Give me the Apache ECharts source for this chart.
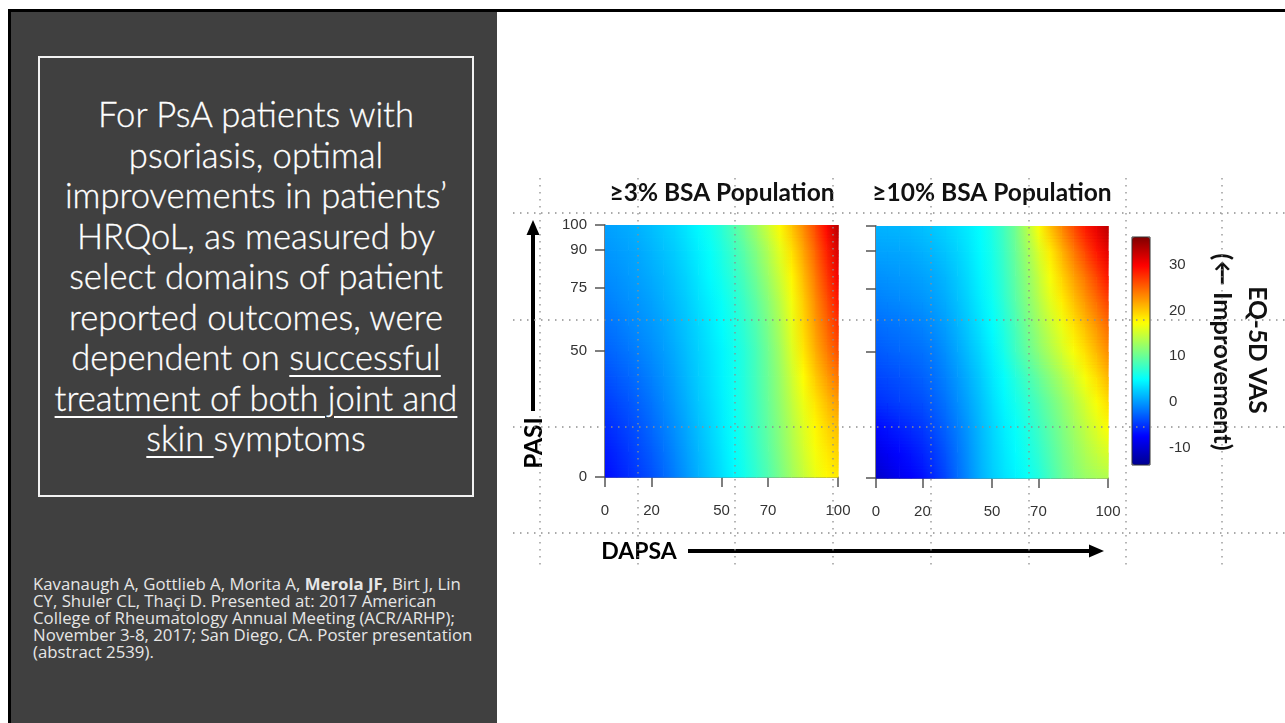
<!DOCTYPE html>
<html>
<head>
<meta charset="utf-8">
<script src="https://cdn.jsdelivr.net/npm/echarts@6.0.0/dist/echarts.min.js"></script>
<style>
html, body { margin: 0; padding: 0; background: #fff; }
#slide { position: relative; width: 1285px; height: 723px; overflow: hidden; }
#topbar { position: absolute; left: 8px; top: 9px; width: 1277px; height: 3px; background: #000; }
#leftpanel { position: absolute; left: 8px; top: 9px; width: 486px; height: 711px; background: #404040;
  border-left: 3px solid #000; border-top: 3px solid #000; }
#box { position: absolute; left: 38px; top: 56px; width: 436px; height: 441px; box-sizing: border-box;
  border: 2px solid #f2f2f2; }
#msg { position: absolute; left: 30px; top: 94px; width: 452px; text-align: center; color: #fff;
  font-family: Lato, "Open Sans", sans-serif; font-weight: 300; font-size: 34.6px; line-height: 40.5px;
  white-space: nowrap; -webkit-text-stroke: 0.3px #fff; }
#msg u { text-decoration-thickness: 2px; text-underline-offset: 5px; }
#cite { position: absolute; left: 33px; top: 575px; color: #e6e6e6; font-family: "Open Sans", Lato, sans-serif;
  font-size: 16.8px; line-height: 17px; white-space: nowrap; }
#chart { position: absolute; left: 0; top: 0; width: 1285px; height: 723px; }
</style>
</head>
<body>
<div id="slide">
  <div id="topbar"></div>
  <div id="leftpanel"></div>
  <div id="box"></div>
  <div id="msg">For PsA patients with<br>psoriasis, optimal<br>improvements in patients’<br>HRQoL, as measured by<br>select domains of patient<br>reported outcomes, were<br>dependent on <u>successful</u><br><u>treatment of both joint and</u><br><u>skin </u>symptoms</div>
  <div id="cite">Kavanaugh A, Gottlieb A, Morita A, <b>Merola JF,</b> Birt J, Lin<br>CY, Shuler CL, Thaçi D. Presented at: 2017 American<br>College of Rheumatology Annual Meeting (ACR/ARHP);<br>November 3-8, 2017; San Diego, CA. Poster presentation<br>(abstract 2539).</div>
  <div id="chart"></div>
</div>
<script>
// grid nodes (DAPSA across, PASI up)
var dapsa = [0,5,10,15,20,25,30,35,40,45,50,55,60,65,70,75,80,85,90,95,100];
var pasi = [0,10,20,30,40,50,60,70,80,90,100];

// EQ-5D VAS improvement, one row per PASI node (bottom row first)
var bsa3 = [
  [-7.0,-6.2,-5.4,-4.5,-3.6,-2.5,-1.3,-0.1,1.1,2.3,3.4,4.6,5.9,7.3,8.8,10.7,12.7,14.5,16.3,17.6,18.4],
  [-6.3,-5.6,-4.8,-3.9,-3.0,-2.0,-0.9,0.3,1.4,2.6,3.7,4.9,6.2,7.7,9.3,11.2,13.2,15.1,16.9,18.4,19.5],
  [-5.5,-4.8,-4.1,-3.3,-2.4,-1.4,-0.4,0.7,1.8,2.9,4.0,5.2,6.5,8.0,9.7,11.6,13.7,15.7,17.6,19.3,20.6],
  [-4.6,-4.0,-3.4,-2.6,-1.8,-0.9,0.1,1.1,2.2,3.2,4.2,5.4,6.7,8.2,10.0,12.0,14.3,16.5,18.6,20.6,22.3],
  [-3.7,-3.1,-2.6,-1.9,-1.2,-0.4,0.5,1.5,2.5,3.4,4.4,5.5,6.8,8.4,10.2,12.3,14.9,17.4,19.9,22.2,24.2],
  [-2.8,-2.3,-1.8,-1.2,-0.6,0.1,0.9,1.8,2.7,3.6,4.5,5.6,6.9,8.5,10.4,12.7,15.6,18.5,21.2,23.7,26.0],
  [-2.0,-1.6,-1.1,-0.6,-0.1,0.5,1.3,2.1,3.0,3.9,4.9,6.0,7.3,8.9,10.9,13.3,16.2,19.2,22.1,24.8,27.4],
  [-1.3,-0.9,-0.5,-0.1,0.4,1.0,1.7,2.5,3.4,4.3,5.3,6.5,7.9,9.6,11.6,14.0,16.8,19.8,22.9,25.9,28.8],
  [-0.7,-0.4,0.0,0.4,0.9,1.4,2.1,2.9,3.8,4.8,5.8,7.1,8.6,10.4,12.5,14.9,17.7,20.7,23.8,27.1,30.3],
  [-0.2,0.1,0.4,0.8,1.3,1.9,2.5,3.3,4.2,5.2,6.4,7.8,9.5,11.4,13.6,16.1,18.9,21.8,24.9,28.3,31.8],
  [0.3,0.6,0.9,1.3,1.8,2.4,3.0,3.8,4.7,5.7,7.0,8.7,10.6,12.7,15.0,17.6,20.3,23.1,26.2,29.6,33.5]
];
var bsa10 = [
  [-10.5,-9.4,-8.4,-7.6,-6.8,-5.5,-4.1,-2.3,-0.6,1.1,2.5,3.5,4.4,5.3,6.5,8.2,9.9,11.2,12.3,13.0,13.5],
  [-8.8,-8.0,-7.3,-6.6,-5.8,-4.7,-3.4,-1.9,-0.3,1.3,2.7,3.8,4.8,5.9,7.2,8.8,10.4,11.9,13.3,14.5,15.5],
  [-7.2,-6.6,-6.0,-5.4,-4.8,-3.8,-2.7,-1.4,0.0,1.5,2.9,4.1,5.2,6.4,7.8,9.4,11.0,12.6,14.2,15.8,17.3],
  [-5.3,-4.9,-4.5,-4.1,-3.7,-2.9,-1.9,-0.7,0.6,1.9,3.3,4.6,5.8,7.1,8.6,10.2,11.8,13.5,15.3,17.1,19.0],
  [-4.2,-3.9,-3.6,-3.2,-2.8,-2.1,-1.2,-0.1,1.1,2.4,3.8,5.1,6.6,8.2,9.9,11.6,13.3,15.1,17.0,19.0,21.0],
  [-3.2,-2.9,-2.6,-2.3,-2.0,-1.4,-0.5,0.6,1.8,3.0,4.3,5.9,7.8,9.7,11.6,13.4,15.2,17.0,18.9,20.9,22.9],
  [-2.3,-2.0,-1.8,-1.5,-1.2,-0.6,0.2,1.2,2.4,3.6,4.9,6.5,8.4,10.5,12.6,14.6,16.5,18.6,20.5,22.5,24.5],
  [-1.3,-1.1,-0.9,-0.6,-0.3,0.2,0.9,1.8,2.9,4.1,5.4,7.1,9.1,11.3,13.6,15.9,18.1,20.3,22.4,24.5,26.6],
  [-0.5,-0.3,-0.1,0.1,0.4,0.8,1.4,2.3,3.3,4.5,5.8,7.5,9.6,11.9,14.5,17.0,19.5,21.9,24.1,26.5,28.8],
  [0.4,0.5,0.6,0.8,1.1,1.5,2.1,2.8,3.7,4.8,6.0,7.8,10.0,12.6,15.5,18.3,21.1,23.8,26.4,28.8,31.0],
  [1.2,1.3,1.4,1.6,1.9,2.3,2.8,3.4,4.1,5.0,6.3,8.1,10.4,13.7,17.2,20.5,23.4,26.1,28.7,31.0,33.2]
];

var dapsaTicks = [0,20,50,70,100];
var pasiTicks = [0,50,75,90,100];
var vasTicks = [-10,0,10,20,30];
var vasMin = -13.7, vasMax = 36;

var jet = ['#00008f','#0000ff','#0080ff','#00ffff','#80ff80','#ffff00','#ff8000','#ff0000','#800000'];

function toTriples(rows){
	var out = [];
	for (var j = 0; j < pasi.length; j++){
		for (var i = 0; i < dapsa.length; i++){
			out.push([dapsa[i], pasi[j], rows[j][i]]);
		}
	}
	return out;
}

var nCols = dapsa.length;
var nRows = pasi.length;
var STRIPS = 8;

function hGrad(a, b){
	return new echarts.graphic.LinearGradient(0, 0, 1, 0, [{offset: 0, color: a}, {offset: 1, color: b}]);
}

// each cell joins four neighbouring nodes; colours come from the visualMap
// and are shaded across the cell (left-right gradient, faded up in strips)
function renderCell(params, api){
	var idx = params.dataIndexInside;
	if (idx % nCols === nCols - 1 || idx >= nCols * (nRows - 1)) return null;
	var right = idx + 1, up = idx + nCols, upRight = idx + nCols + 1;
	var pBL = api.coord([api.value(0), api.value(1)]);
	var pTR = api.coord([api.value(0, upRight), api.value(1, upRight)]);
	var x = pBL[0], w = pTR[0] - pBL[0] + 0.6;
	var yTop = pTR[1], h = pBL[1] - pTR[1];
	var lower = hGrad(api.visual('color'), api.visual('color', right));
	var upper = hGrad(api.visual('color', up), api.visual('color', upRight));
	var children = [{type: 'rect', shape: {x: x, y: yTop, width: w, height: h + 0.6}, style: {fill: lower}}];
	var sh = h / STRIPS;
	for (var k = 0; k < STRIPS; k++){
		children.push({
			type: 'rect',
			shape: {x: x, y: yTop + k * sh, width: w, height: sh + 0.4},
			style: {fill: upper, opacity: (STRIPS - k - 0.5) / STRIPS}
		});
	}
	return {type: 'group', children: children};
}

var axisGray = '#555';
var tickFont = {fontFamily: '"Liberation Sans", Arial, sans-serif', fontSize: 15, color: '#333'};

function xAxisFor(idx){
	return {
		gridIndex: idx, type: 'value', min: 0, max: 100,
		axisLine: {show: true, lineStyle: {color: axisGray, width: 1.5}},
		axisTick: {show: true, length: 10, customValues: dapsaTicks, lineStyle: {color: axisGray, width: 1.5}},
		axisLabel: Object.assign({customValues: dapsaTicks, margin: 26, showMinLabel: true, showMaxLabel: true}, tickFont),
		splitLine: {show: false}
	};
}
function yAxisFor(idx, labels){
	return {
		gridIndex: idx, type: 'value', min: 0, max: 100,
		axisLine: {show: true, lineStyle: {color: axisGray, width: 1.5}},
		axisTick: {show: true, length: 10, customValues: pasiTicks, lineStyle: {color: axisGray, width: 1.5}},
		axisLabel: Object.assign({show: labels, customValues: pasiTicks, margin: 18, showMinLabel: true, showMaxLabel: true}, tickFont),
		splitLine: {show: false}
	};
}

// slide guide dots
var dotStyle = {stroke: '#8f8f8f', lineWidth: 1.3, lineDash: [1.5, 5.5]};
var guides = [];
[213, 320, 427, 533].forEach(function(y){
	guides.push({type: 'line', z: 200, silent: true, shape: {x1: 513, y1: y, x2: 1285, y2: y}, style: dotStyle});
});
[540, 638, 735, 833, 931, 1029, 1126, 1222].forEach(function(x){
	guides.push({type: 'line', z: 200, silent: true, shape: {x1: x, y1: 178, x2: x, y2: 568}, style: dotStyle});
});

var titleFont = 'bold 24.5px Lato, "Open Sans", sans-serif';
var sideFont = 'bold 24.5px Lato, "Open Sans", sans-serif';

var chart = echarts.init(document.getElementById('chart'));
var option = {
	animation: false,
	grid: [
		{left: 605, top: 225, width: 233, height: 252},
		{left: 876, top: 226, width: 232, height: 252},
		{left: 1132, top: 237, width: 18, height: 228}
	],
	xAxis: [xAxisFor(0), xAxisFor(1), {gridIndex: 2, type: 'value', show: false}],
	yAxis: [
		yAxisFor(0, true),
		yAxisFor(1, false),
		{
			gridIndex: 2, type: 'value', position: 'right', min: vasMin, max: vasMax,
			axisLine: {show: false},
			axisTick: {show: true, length: 10, customValues: vasTicks, lineStyle: {color: axisGray, width: 1.5}},
			axisLabel: Object.assign({customValues: vasTicks, margin: 19}, tickFont),
			splitLine: {show: false}
		}
	],
	visualMap: {
		type: 'continuous', min: vasMin, max: vasMax, dimension: 2, seriesIndex: [0, 1],
		calculable: false, hoverLink: false, padding: 0,
		left: 1132, top: 237, itemWidth: 18, itemHeight: 228,
		inRange: {color: jet}
	},
	series: [
		{type: 'custom', name: '≥3% BSA Population', xAxisIndex: 0, yAxisIndex: 0, renderItem: renderCell,
		 encode: {x: 0, y: 1}, data: toTriples(bsa3)},
		{type: 'custom', name: '≥10% BSA Population', xAxisIndex: 1, yAxisIndex: 1, renderItem: renderCell,
		 encode: {x: 0, y: 1}, data: toTriples(bsa10)}
	],
	graphic: [
		{type: 'text', x: 722, y: 193, style: {text: '≥3% BSA Population', font: titleFont, fill: '#111', align: 'center', verticalAlign: 'middle'}},
		{type: 'text', x: 992, y: 193, style: {text: '≥10% BSA Population', font: titleFont, fill: '#111', align: 'center', verticalAlign: 'middle'}},
		{type: 'text', x: 534, y: 443, rotation: Math.PI / 2, style: {text: 'PASI', font: titleFont, fill: '#000', align: 'center', verticalAlign: 'middle'}},
		{type: 'line', shape: {x1: 533, y1: 411, x2: 533, y2: 232}, style: {stroke: '#000', lineWidth: 4}},
		{type: 'polygon', shape: {points: [[533, 220], [526.5, 235], [539.5, 235]]}, style: {fill: '#000'}},
		{type: 'text', x: 639, y: 552, style: {text: 'DAPSA', font: 'bold 23px Lato, "Open Sans", sans-serif', fill: '#000', align: 'center', verticalAlign: 'middle'}},
		{type: 'line', shape: {x1: 688, y1: 551, x2: 1092, y2: 551}, style: {stroke: '#000', lineWidth: 4}},
		{type: 'polygon', shape: {points: [[1104, 551], [1089, 544.5], [1089, 557.5]]}, style: {fill: '#000'}},
		{type: 'text', x: 1257, y: 350, rotation: -Math.PI / 2, style: {text: 'EQ-5D VAS', font: sideFont, fill: '#111', align: 'center', verticalAlign: 'middle'}},
		{type: 'text', x: 1222, y: 352, rotation: -Math.PI / 2, style: {text: '(← Improvement)', font: 'bold 25.5px Lato, "Open Sans", sans-serif', fill: '#111', align: 'center', verticalAlign: 'middle'}},
		{type: 'rect', z: 150, silent: true, shape: {x: 1132, y: 237, width: 18, height: 228}, style: {fill: 'none', stroke: '#333', lineWidth: 1}}
	].concat(guides)
};
chart.setOption(option);
</script>
</body>
</html>
